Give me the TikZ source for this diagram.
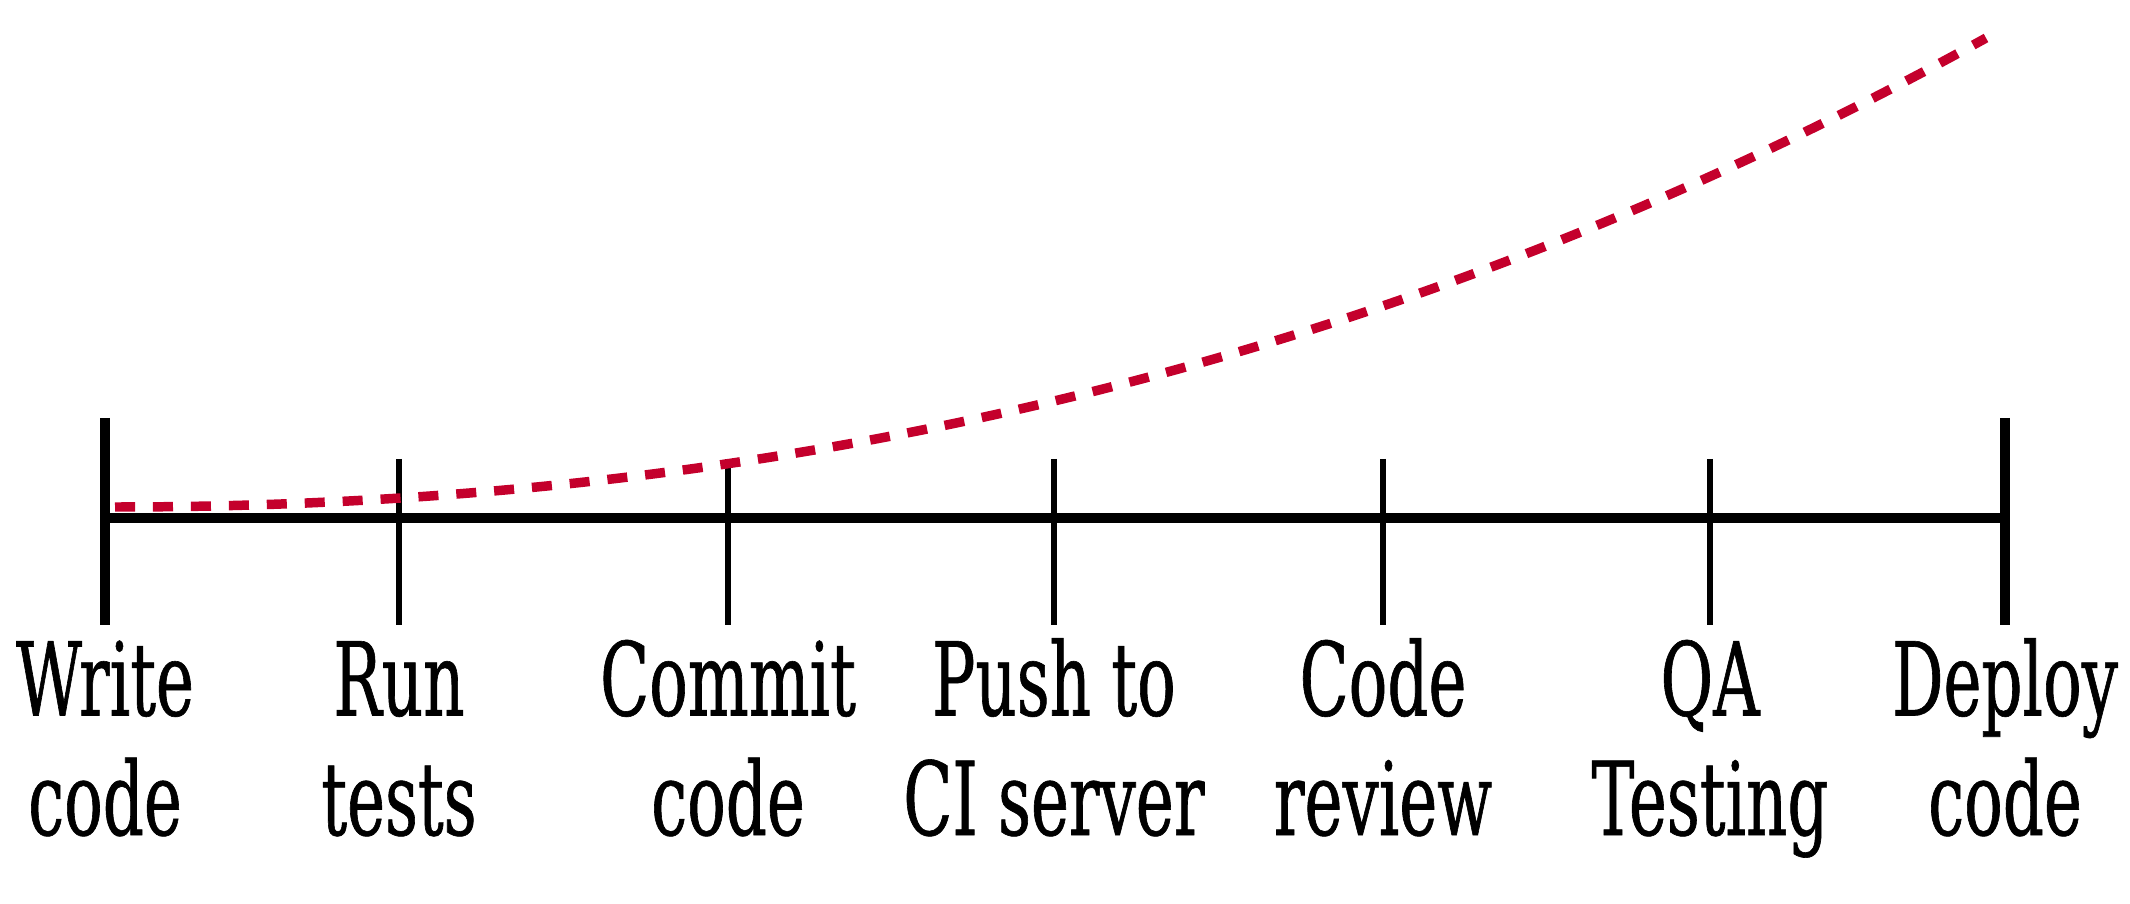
\documentclass[tikz,border=0pt]{standalone}
\usepackage{fontspec}
\setmainfont{DejaVu Serif Condensed}[FakeStretch=0.7,FakeBold=0.6]
\usepackage{tikz}

\definecolor{curvered}{RGB}{196,0,44}

\begin{document}
\begin{tikzpicture}
[every node/.style={align=center,anchor=base,inner sep=0pt,font=\fontsize{29}{34}\selectfont},
 axisline/.style={line width=2.9pt},
 endtick/.style={line width=2.9pt},
 midtick/.style={line width=1.7pt},
 costcurve/.style={curvered,line width=2.7pt,dash pattern=on 5.7pt off 5.1pt}]
  \useasboundingbox (0,0) rectangle (21.30,9.03);

  \coordinate (t0) at (1.05,3.85);
  \coordinate (t1) at (3.99,3.85);
  \coordinate (t2) at (7.28,3.85);
  \coordinate (t3) at (10.54,3.85);
  \coordinate (t4) at (13.83,3.85);
  \coordinate (t5) at (17.10,3.85);
  \coordinate (t6) at (20.05,3.85);

  \draw[axisline] (t0) -- (t6);
  \foreach \t in {t0,t6}
    \draw[endtick] (\t) ++(0,1.00) -- ++(0,-2.07);
  \foreach \t in {t1,t2,t3,t4,t5}
    \draw[midtick] (\t) ++(0,0.59) -- ++(0,-1.66);

  % base of each label is the baseline of its last line
  \node (n0) at (1.05,0.68)  {Write\\code};
  \node (n1) at (3.99,0.68)  {Run\\tests};
  \node (n2) at (7.28,0.68)  {Commit\\code};
  \node (n3) at (10.54,0.68) {Push to\\CI server};
  \node (n4) at (13.83,0.68) {Code\\review};
  \node (n5) at (17.10,0.68) {QA\\Testing};
  \node (n6) at (20.05,0.68) {Deploy\\code};

  \coordinate (c0) at (1.15,3.96);
  \coordinate (c1) at (19.86,8.65);
  \draw[costcurve] (c0) .. controls (7.39,3.96) and (13.62,5.20) .. (c1);
\end{tikzpicture}
\end{document}
